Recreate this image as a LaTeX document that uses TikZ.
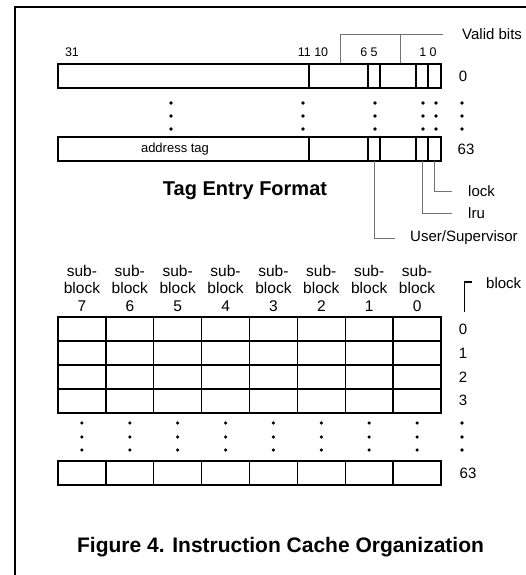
\documentclass[tikz,border=0pt]{standalone}
\usepackage{fontspec}
\setmainfont{Liberation Sans}
\begin{document}
\begin{tikzpicture}[x=1pt,y=-1pt,
  outer/.style={line width=1.8pt},
  inner/.style={line width=1.4pt},
  thickdiv/.style={line width=2.6pt},
  leader/.style={draw=black!55,line width=0.8pt},
  lbl/.style={inner sep=0pt,font=\fontsize{15}{15}\selectfont},
  bitnum/.style={inner sep=0pt,font=\fontsize{12.5}{12.5}\selectfont},
  dotm/.style={circle,fill=black,inner sep=0pt,minimum size=3.6pt},
  hdr/.style={inner sep=0pt,align=center,font=\fontsize{15.5}{17.5}\selectfont},
  pt/.style={inner sep=0pt,minimum size=0pt}]
\useasboundingbox (0,0) rectangle (526,575);
% frame
\draw[line width=2pt] (15,575) -- (15,7) -- (526,7);

% ---------- tag rows ----------
\foreach \y/\n in {64/r0,137/r63}{
  \draw[outer] (58,\y) rectangle (441,\y+24);
  \draw[thickdiv] (309,\y) -- (309,\y+24);
  \foreach \x in {368,380,416,428}
    \draw[inner] (\x,\y) -- (\x,\y+24);
}
\node[inner sep=0pt,font=\fontsize{13}{13}\selectfont] at (175,149) {address tag};
% anchor points on row 63 cells
\node[pt] (us) at (374,161) {};
\node[pt] (lru) at (422,161) {};
\node[pt] (lock) at (434.5,161) {};

% bit numbers
\node[bitnum] at (72,52) {31};
\node[bitnum] at (313,52) {11 10};
\node[bitnum] at (369,52) {6 5};
\node[bitnum] at (428,52) {1 0};

% valid bits bracket
\node[pt] (vb1) at (340,63) {};
\node[pt] (vb2) at (400,63) {};
\node[lbl,anchor=west] (valid) at (462,34) {Valid bits};
\coordinate (vbend) at (443,34);
\draw[leader] (vb1) -- (vb1 |- vbend) -- (vbend);
\draw[leader] (vb2) -- (vb2 |- vbend);

% row labels
\node[lbl] at (463,76) {0};
\node[lbl] at (466,149) {63};

% dots
\foreach \x in {171,303,375,423,436,462}
  \foreach \y in {103,116,129}
    \node[dotm] at (\x,\y) {};

\node[inner sep=0pt,font=\bfseries\fontsize{20}{20}\selectfont] at (245,191) {Tag Entry Format};

% leaders
\node[lbl,anchor=west] (locklbl) at (468,191) {lock};
\node[lbl,anchor=west] (lrulbl) at (468,213) {lru};
\node[lbl,anchor=west] (uslbl) at (410,238) {User/Supervisor};
\draw[leader] (lock) |- ([xshift=-16pt]locklbl.west);
\draw[leader] (lru) |- ([xshift=-16pt]lrulbl.west);
\draw[leader] (us) |- ([xshift=-15pt]uslbl.west);

% ---------- sub-block grid ----------
\foreach \k/\t in {0/7,1/6,2/5,3/4,4/3,5/2,6/1,7/0}{
  \node[hdr] at ({58+47.875*(\k+0.5)},288) {sub-\\block\\\t};
}
\draw[outer] (58,317) rectangle (441,413);
\foreach \y in {341,365,389}
  \draw[inner] (58,\y) -- (441,\y);
\foreach \k in {1,...,7}
  \draw[inner] ({58+47.875*\k},317) -- ({58+47.875*\k},413);

\draw[outer] (58,461) rectangle (441,485);
\foreach \k in {1,...,7}
  \draw[inner] ({58+47.875*\k},461) -- ({58+47.875*\k},485);

% block bracket
\node[lbl,anchor=west] (blocklbl) at (486,283) {block};
\draw[line width=1.3pt] (464.5,312) -- (464.5,282) -- (472,282);

\foreach \y/\t in {329/0,353/1,377/2,400/3}
  \node[lbl] at (463,\y) {\t};
\node[lbl] at (468,473) {63};

\foreach \k in {0,...,7}
  \foreach \y in {423,437,450}
    \node[dotm] at ({58+47.875*(\k+0.5)},\y) {};
\foreach \y in {423,437,450}
  \node[dotm] at (462,\y) {};

\node[inner sep=0pt,font=\bfseries\fontsize{21}{21}\selectfont] at (280.5,547) {Figure 4. Instruction Cache Organization};
\end{tikzpicture}
\end{document}
